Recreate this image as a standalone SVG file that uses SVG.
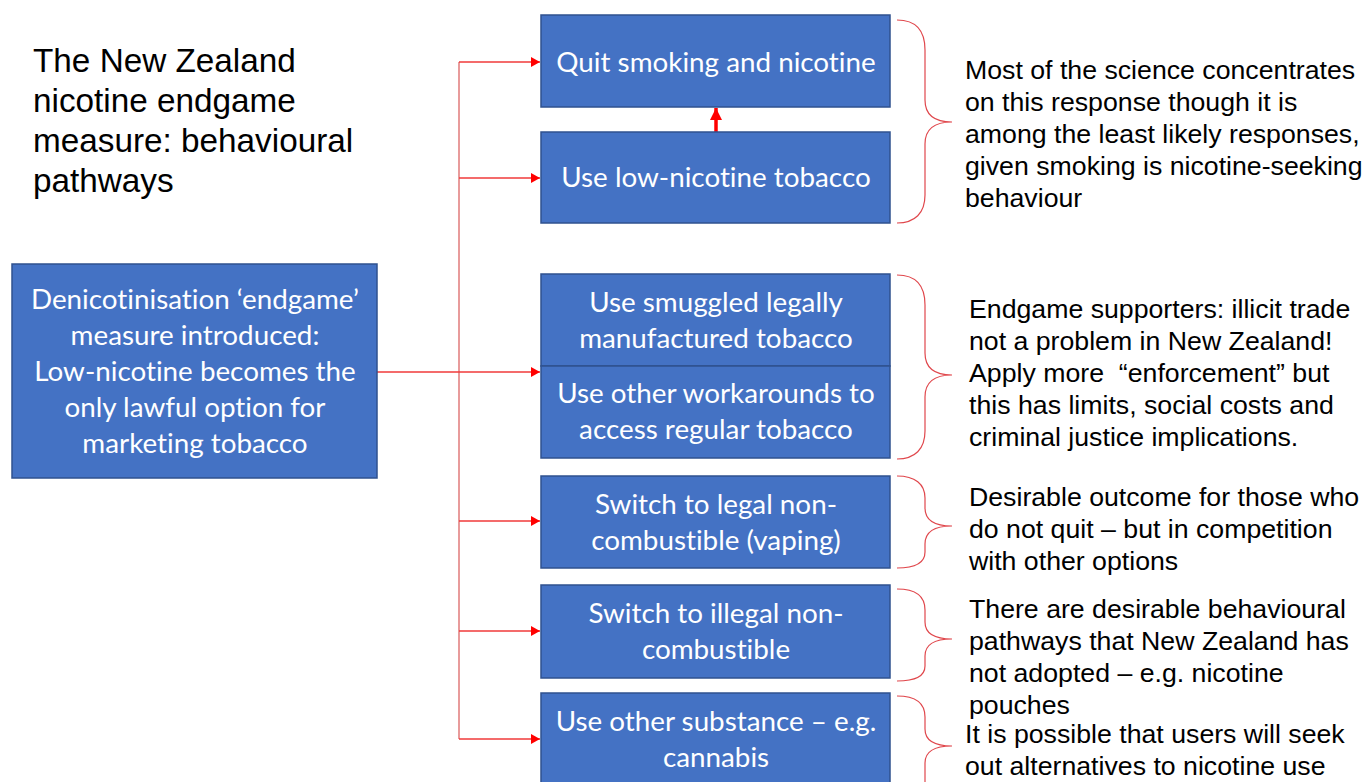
<svg xmlns="http://www.w3.org/2000/svg" width="1366" height="782" viewBox="0 0 1366 782">
<style>
.box{fill:#4472C4;stroke:#2F528F;stroke-width:1.5}
.bt{font-family:Lato,"Open Sans",sans-serif;font-size:27.8px;fill:#FFFFFF;text-anchor:middle;font-variant-ligatures:none;font-feature-settings:"liga" 0}
.note{font-family:"Liberation Sans",Arial,sans-serif;font-size:26.7px;fill:#000000}
.title{font-family:"Liberation Sans",Arial,sans-serif;font-size:33.3px;fill:#000000}
.trunk{stroke:#E07A7A;stroke-width:1.5;fill:none}
.br{stroke:#F03A3A;stroke-width:1.3;fill:none}
.brace{stroke:#E0474C;stroke-width:1.2;fill:none}
</style>
<defs>
<marker id="ah" markerWidth="9" markerHeight="10" refX="9" refY="5" orient="auto" markerUnits="userSpaceOnUse">
<path d="M0,0 L9,5 L0,10 Z" fill="#FF0000"/>
</marker>
<marker id="ahb" markerWidth="12" markerHeight="12" refX="12" refY="6" orient="auto" markerUnits="userSpaceOnUse">
<path d="M0,0 L12,6 L0,12 Z" fill="#FF0000"/>
</marker>
</defs>
<rect width="1366" height="782" fill="#FFFFFF"/>

<g id="title">
<text class="title" x="33" y="72">The New Zealand</text>
<text class="title" x="33" y="112">nicotine endgame</text>
<text class="title" x="33" y="152">measure: behavioural</text>
<text class="title" x="33" y="192">pathways</text>
</g>

<g id="connectors">
<line class="trunk" x1="459" y1="62" x2="459" y2="739"/>
<line class="br" x1="377" y1="372" x2="540" y2="372" marker-end="url(#ah)"/>
<line class="br" x1="459" y1="62" x2="540" y2="62" marker-end="url(#ah)"/>
<line class="br" x1="459" y1="178" x2="540" y2="178" marker-end="url(#ah)"/>
<line class="br" x1="459" y1="521" x2="540" y2="521" marker-end="url(#ah)"/>
<line class="br" x1="459" y1="631" x2="540" y2="631" marker-end="url(#ah)"/>
<line class="br" x1="459" y1="739" x2="540" y2="739" marker-end="url(#ah)"/>
<line x1="716" y1="132" x2="716" y2="108" stroke="#FF0000" stroke-width="3.5" marker-end="url(#ahb)"/>
</g>

<g id="start">
<rect class="box" x="12" y="264" width="365" height="214"/>
<text class="bt" x="195" y="309">Denicotinisation ‘endgame’</text>
<text class="bt" x="195" y="345">measure introduced:</text>
<text class="bt" x="195" y="381">Low-nicotine becomes the</text>
<text class="bt" x="195" y="417">only lawful option for</text>
<text class="bt" x="195" y="453">marketing tobacco</text>
</g>

<g id="quit">
<rect class="box" x="541" y="15" width="349" height="92"/>
<text class="bt" x="716" y="72">Quit smoking and nicotine</text>
</g>
<g id="lownic">
<rect class="box" x="541" y="132" width="349" height="91"/>
<text class="bt" x="716" y="187">Use low-nicotine tobacco</text>
</g>
<g id="smuggled">
<rect class="box" x="541" y="274" width="349" height="92"/>
<text class="bt" x="716" y="312">Use smuggled legally</text>
<text class="bt" x="716" y="348">manufactured tobacco</text>
</g>
<g id="workarounds">
<rect class="box" x="541" y="366" width="349" height="92"/>
<text class="bt" x="716" y="403">Use other workarounds to</text>
<text class="bt" x="716" y="439">access regular tobacco</text>
</g>
<g id="vaping">
<rect class="box" x="541" y="476" width="349" height="92"/>
<text class="bt" x="716" y="514">Switch to legal non-</text>
<text class="bt" x="716" y="550">combustible (vaping)</text>
</g>
<g id="illegal">
<rect class="box" x="541" y="585" width="349" height="93"/>
<text class="bt" x="716" y="623">Switch to illegal non-</text>
<text class="bt" x="716" y="659">combustible</text>
</g>
<g id="othersub">
<rect class="box" x="541" y="693" width="349" height="95"/>
<text class="bt" x="716" y="731">Use other substance – e.g.</text>
<text class="bt" x="716" y="767">cannabis</text>
</g>

<g id="braces">
<path class="brace" d="M897,20 C915,20 925,30 925,50 L925,100 C925,115 935,122 952,122 C935,122 925,129 925,144 L925,195 C925,213 915,223 897,223"/>
<path class="brace" d="M897,275 C915,275 925,285 925,305 L925,353 C925,368 935,375 952,375 C935,375 925,382 925,397 L925,431 C925,449 915,459 897,459"/>
<path class="brace" d="M897,476 C915,476 925,484 925,498 L925,508 C925,520 935,526 952,526 C935,526 925,532 925,544 L925,552 C925,563 915,568 897,568"/>
<path class="brace" d="M897,589 C915,589 925,596 925,610 L925,622 C925,634 935,639 952,639 C935,639 925,644 925,656 L925,666 C925,677 915,681 897,681"/>
<path class="brace" d="M897,696 C915,696 925,703 925,717 L925,729 C925,741 935,746 952,746 C935,746 925,751 925,763 L925,790"/>
</g>

<g id="notes">
<text class="note" x="965" y="79">Most of the science concentrates</text>
<text class="note" x="965" y="111">on this response though it is</text>
<text class="note" x="965" y="143">among the least likely responses,</text>
<text class="note" x="965" y="175">given smoking is nicotine-seeking</text>
<text class="note" x="965" y="207">behaviour</text>

<text class="note" x="969" y="318">Endgame supporters: illicit trade</text>
<text class="note" x="969" y="350">not a problem in New Zealand!</text>
<text class="note" x="969" y="382" xml:space="preserve">Apply more  “enforcement” but</text>
<text class="note" x="969" y="414">this has limits, social costs and</text>
<text class="note" x="969" y="446">criminal justice implications.</text>

<text class="note" x="969" y="506">Desirable outcome for those who</text>
<text class="note" x="969" y="538">do not quit – but in competition</text>
<text class="note" x="969" y="570">with other options</text>

<text class="note" x="969" y="618">There are desirable behavioural</text>
<text class="note" x="969" y="650">pathways that New Zealand has</text>
<text class="note" x="969" y="682">not adopted – e.g. nicotine</text>
<text class="note" x="969" y="714">pouches</text>

<text class="note" x="965" y="743">It is possible that users will seek</text>
<text class="note" x="965" y="775">out alternatives to nicotine use</text>
</g>
</svg>
